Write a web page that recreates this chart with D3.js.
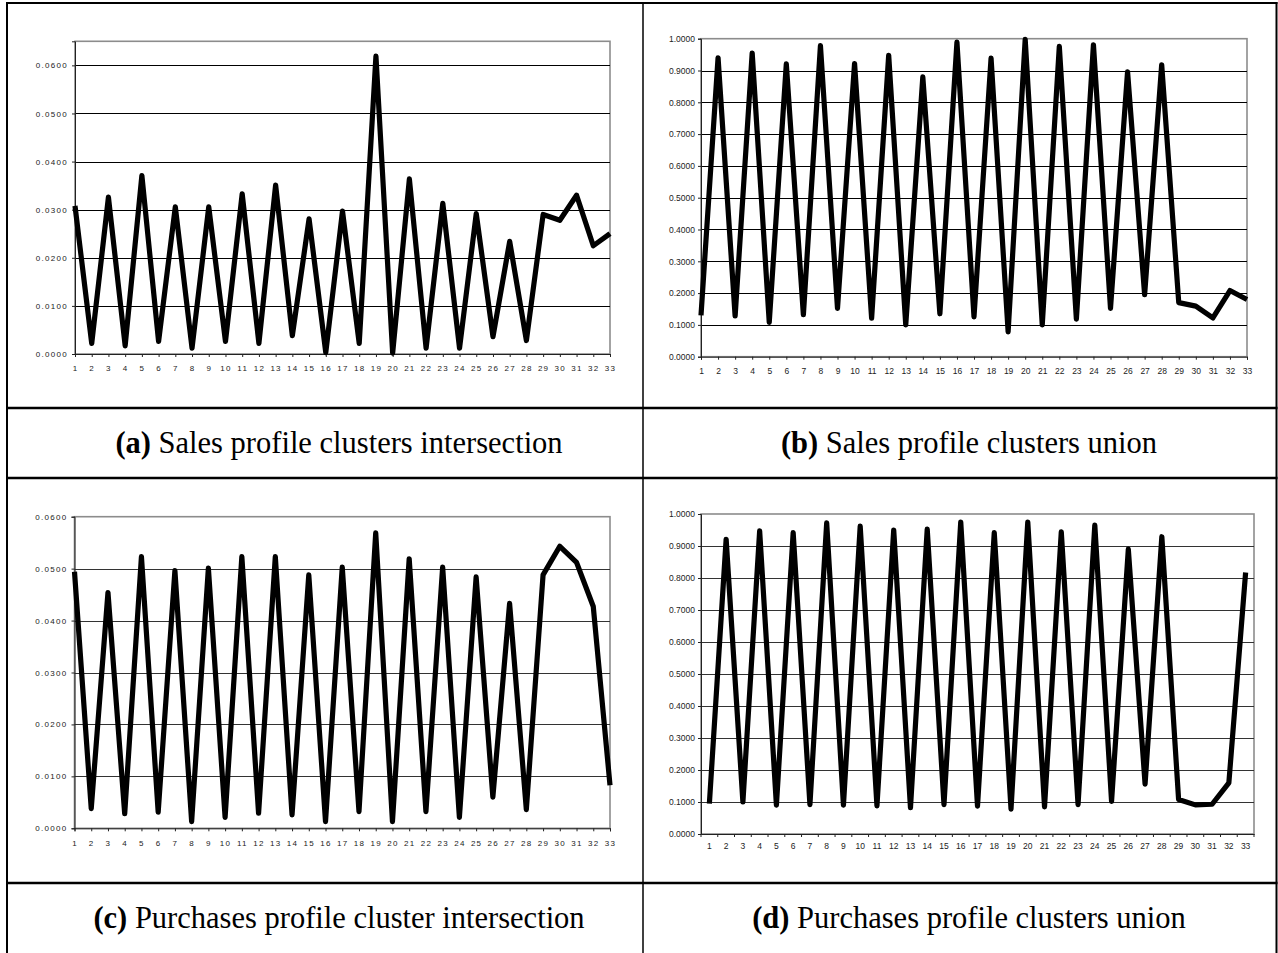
<!DOCTYPE html>
<html><head><meta charset="utf-8">
<script src="https://cdn.jsdelivr.net/npm/d3@7/dist/d3.min.js"></script>
<style>body{margin:0;background:#fff}</style>
</head><body>
<svg id="c" width="1278" height="953"></svg>
<script>
const categories = ["1","2","3","4","5","6","7","8","9","10","11","12","13","14","15","16","17","18","19","20","21","22","23","24","25","26","27","28","29","30","31","32","33"];
const salesIntersection = [0.0308,0.0022,0.0326,0.0017,0.0371,0.0026,0.0306,0.0012,0.0306,0.0026,0.0333,0.0022,0.0351,0.0038,0.0281,0.0003,0.0297,0.0022,0.0619,0.0002,0.0364,0.0012,0.0313,0.0012,0.0292,0.0036,0.0234,0.0028,0.0290,0.0278,0.0330,0.0225,0.0250];
const salesUnion = [0.130,0.940,0.128,0.955,0.108,0.921,0.132,0.978,0.152,0.922,0.121,0.948,0.100,0.880,0.135,0.989,0.125,0.939,0.078,0.998,0.100,0.976,0.118,0.981,0.152,0.896,0.195,0.918,0.170,0.159,0.122,0.208,0.180];
const purchasesIntersection = [0.0494,0.0038,0.0454,0.0028,0.0523,0.0031,0.0496,0.0013,0.0501,0.0021,0.0523,0.0029,0.0523,0.0026,0.0488,0.0013,0.0503,0.0032,0.0569,0.0013,0.0519,0.0032,0.0503,0.0021,0.0484,0.0060,0.0433,0.0036,0.0488,0.0543,0.0512,0.0427,0.0083];
const purchasesUnion = [0.095,0.921,0.100,0.947,0.090,0.942,0.092,0.972,0.090,0.962,0.088,0.950,0.082,0.953,0.092,0.975,0.087,0.942,0.078,0.975,0.085,0.944,0.092,0.965,0.102,0.890,0.156,0.929,0.108,0.091,0.093,0.160,0.817];
const intersectionTicks = [0,0.01,0.02,0.03,0.04,0.05,0.06];
const unionTicks = [0,0.1,0.2,0.3,0.4,0.5,0.6,0.7,0.8,0.9,1.0];
const captionLetters = ["(a)","(b)","(c)","(d)"];
const captionTexts = [" Sales profile clusters intersection"," Sales profile clusters union"," Purchases profile cluster intersection"," Purchases profile clusters union"];

const svg = d3.select("#c");
svg.append("rect").attr("width",1278).attr("height",953).attr("fill","#fff");

const panels = [
  {data: salesIntersection, ticks: intersectionTicks, max: 0.065, x0: 75, x1: 610, y0: 354, y1: 41.3, band: false, spaced: true, lblDy: 15, grid: "#000"},
  {data: salesUnion, ticks: unionTicks, max: 1.0, x0: 701, x1: 1247, y0: 356.7, y1: 38.7, band: false, spaced: false, lblDy: 15, grid: "#000"},
  {data: purchasesIntersection, ticks: intersectionTicks, max: 0.06, x0: 74.5, x1: 610, y0: 828.3, y1: 516.7, band: false, spaced: true, lblDy: 16, grid: "#333"},
  {data: purchasesUnion, ticks: unionTicks, max: 1.0, x0: 701, x1: 1254, y0: 834, y1: 514, band: true, spaced: false, lblDy: 13, grid: "#333"}
];

const fmt = d3.format(".4f");

panels.forEach(p => {
  const g = svg.append("g");
  const y = d3.scaleLinear().domain([0, p.max]).range([p.y0, p.y1]);
  let xPos, x;
  if (p.band) {
    x = d3.scaleBand().domain(categories).range([p.x0, p.x1]);
    xPos = c => x(c) + x.bandwidth() / 2;
  } else {
    x = d3.scalePoint().domain(categories).range([p.x0, p.x1]);
    xPos = c => x(c);
  }
  const fontSize = p.spaced ? 8 : 8.5;
  const ls = p.spaced ? 1.3 : 0;

  g.append("rect").attr("x", p.x0).attr("y", p.y1)
    .attr("width", p.x1 - p.x0).attr("height", p.y0 - p.y1)
    .attr("fill", "none").attr("stroke", "#8c8c8c").attr("stroke-width", 1.6);

  g.selectAll("line.grid").data(p.ticks.filter(t => t > 0 && t < p.max)).enter()
    .append("line").attr("x1", p.x0).attr("x2", p.x1)
    .attr("y1", d => Math.round(y(d)) + 0.5).attr("y2", d => Math.round(y(d)) + 0.5)
    .attr("stroke", p.grid).attr("stroke-width", 1);

  const ya = g.append("g").attr("transform", `translate(${p.x0},0)`)
    .call(d3.axisLeft(y).tickValues(p.ticks).tickFormat(fmt).tickSize(3).tickPadding(p.spaced ? 4 : 3));
  ya.select(".domain").attr("stroke", "#222").attr("stroke-width", 1);
  ya.selectAll(".tick line").attr("stroke", "#222");
  ya.selectAll("text").attr("font-family", "'Liberation Sans', Arial, sans-serif")
    .attr("font-size", fontSize).attr("fill", "#222").style("letter-spacing", ls + "px");

  const xa = g.append("g").attr("transform", `translate(0,${p.y0})`);
  if (p.band) {
    xa.call(d3.axisBottom(x).tickSize(0).tickPadding(p.lblDy - 4));
    const bounds = categories.map(c => x(c)).concat([p.x1]);
    xa.selectAll("line.btick").data(bounds).enter().append("line")
      .attr("x1", d => d).attr("x2", d => d).attr("y1", 0).attr("y2", 3)
      .attr("stroke", "#222");
  } else {
    xa.call(d3.axisBottom(x).tickSize(3).tickPadding(p.lblDy - 7));
  }
  xa.select(".domain").attr("stroke", "#222").attr("stroke-width", 1);
  xa.selectAll(".tick line").attr("stroke", "#222");
  xa.selectAll("text").attr("font-family", "'Liberation Sans', Arial, sans-serif")
    .attr("font-size", fontSize).attr("fill", "#222").style("letter-spacing", ls + "px");

  const line = d3.line().x((d, i) => xPos(categories[i])).y(d => y(d));
  g.append("path").datum(p.data).attr("d", line)
    .attr("fill", "none").attr("stroke", "#000").attr("stroke-width", 5.2)
    .attr("stroke-linejoin", "round").attr("stroke-linecap", "butt");
});

const tbl = svg.append("g").attr("stroke", "#000").attr("fill", "none");
tbl.append("line").attr("x1", 6).attr("x2", 1277.5).attr("y1", 3).attr("y2", 3).attr("stroke-width", 2);
tbl.append("line").attr("x1", 7).attr("x2", 7).attr("y1", 2).attr("y2", 953).attr("stroke-width", 2);
tbl.append("line").attr("x1", 1276.5).attr("x2", 1276.5).attr("y1", 2).attr("y2", 953).attr("stroke-width", 2);
tbl.append("line").attr("x1", 643).attr("x2", 643).attr("y1", 2).attr("y2", 953).attr("stroke-width", 1.5);
[408, 478, 883].forEach(yy => {
  tbl.append("line").attr("x1", 6).attr("x2", 1277.5).attr("y1", yy).attr("y2", yy).attr("stroke-width", 2.5);
});

const capPos = [[339, 453], [969, 453], [339, 928], [969, 928]];
capPos.forEach((cp, i) => {
  const t = svg.append("text").attr("x", cp[0]).attr("y", cp[1])
    .attr("text-anchor", "middle")
    .attr("font-family", "'Liberation Serif', 'Times New Roman', serif")
    .attr("font-size", 30.5).attr("fill", "#000");
  t.append("tspan").attr("font-weight", "bold").text(captionLetters[i]);
  t.append("tspan").text(captionTexts[i]);
});
</script>
</body></html>
